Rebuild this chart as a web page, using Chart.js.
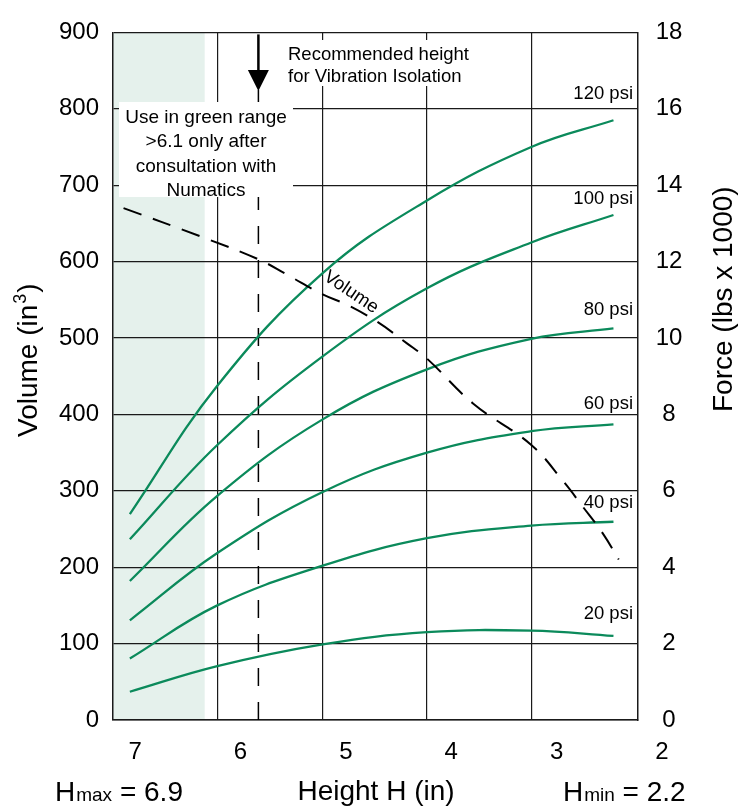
<!DOCTYPE html>
<html>
<head>
<meta charset="utf-8">
<script src="https://cdn.jsdelivr.net/npm/chart.js@4.4.1/dist/chart.umd.min.js"></script>
<style>
  html, body { margin: 0; padding: 0; background: #fff; }
  #wrap { width: 739px; height: 806px; position: relative; }
</style>
</head>
<body>
<div id="wrap"><canvas id="airspring"></canvas></div>
<script>
// heights (in) the force curves were read at
const heights = [7.05, 6.22, 5.22, 4.23, 3.24, 2.46];
// force, lbs x 1000
const psi120 = [5.39, 8.75, 11.7, 13.6, 15.0, 15.7];
const psi100 = [4.73, 7.2, 9.52, 11.3, 12.5, 13.22];
const psi80 = [3.64, 5.87, 7.87, 9.18, 9.98, 10.25];
const psi60 = [2.61, 4.37, 5.97, 7.0, 7.56, 7.74];
const psi40 = [1.61, 3.0, 4.04, 4.76, 5.09, 5.19];
const psi20 = [0.74, 1.41, 1.98, 2.3, 2.34, 2.2];
const psiNames = ['120 psi', '100 psi', '80 psi', '60 psi', '40 psi', '20 psi'];

// volume curve (in3)
const volHeights = [7.11, 6.38, 5.83, 5.56, 5.22, 4.98, 4.70, 4.42, 4.23, 3.79, 3.24, 2.94, 2.75, 2.56, 2.41];
const volume = [670, 633, 603, 583, 557, 543, 521, 493, 473, 414, 360, 313, 279, 244, 210];

const xTickLabels = [7, 6, 5, 4, 3, 2];
const xGrid = [6.22, 5.22, 4.23, 3.24];
const recommendedH = 5.83;
const greenRange = [6.34, 7.21];

const FONT = "'Liberation Sans', Arial, Helvetica, sans-serif";
const green = '#0b8a5b';
const gridColor = '#1a1a1a';

Chart.defaults.font.family = FONT;
Chart.defaults.color = '#000';

function curve(hs, vals) {
  return hs.map((h, i) => ({ x: h, y: vals[i] }));
}

// where the psi names sit (force units, text baseline)
const psiLabelAt = [16.25, 13.5, 10.6, 8.15, 5.55, 2.65];

const annotate = {
  id: 'annotate',
  beforeDraw(chart) {
    const { ctx, chartArea: a, scales: { x } } = chart;
    const x0 = x.getPixelForValue(greenRange[1]);
    const x1 = x.getPixelForValue(greenRange[0]);
    ctx.save();
    ctx.fillStyle = '#e5f1ec';
    ctx.fillRect(x0, a.top, x1 - x0, a.bottom - a.top);
    ctx.restore();
  },
  beforeDatasetsDraw(chart) {
    const { ctx, chartArea: a, scales: { x } } = chart;
    const px = x.getPixelForValue(recommendedH);
    ctx.save();
    // dashed marker line
    ctx.strokeStyle = '#000';
    ctx.lineWidth = 1.5;
    ctx.setLineDash([18, 16]);
    ctx.beginPath();
    ctx.moveTo(px, 90);
    ctx.lineTo(px, a.bottom);
    ctx.stroke();
    ctx.setLineDash([]);
    // arrow
    ctx.lineWidth = 2.5;
    ctx.beginPath();
    ctx.moveTo(px, a.top + 2);
    ctx.lineTo(px, 72);
    ctx.stroke();
    ctx.fillStyle = '#000';
    ctx.beginPath();
    ctx.moveTo(px - 10.5, 70);
    ctx.lineTo(px + 10.5, 70);
    ctx.lineTo(px, 91);
    ctx.closePath();
    ctx.fill();
    ctx.restore();
  },
  afterDraw(chart) {
    const { ctx, scales: { x, y, y1 } } = chart;
    ctx.save();
    ctx.fillStyle = '#000';

    // x tick labels (integers, offset from the grid)
    ctx.font = '24px ' + FONT;
    ctx.textAlign = 'center';
    ctx.textBaseline = 'alphabetic';
    xTickLabels.forEach(v => ctx.fillText(String(v), x.getPixelForValue(v), 759));

    // psi names
    ctx.font = '18.5px ' + FONT;
    ctx.textAlign = 'right';
    psiNames.forEach((n, i) => ctx.fillText(n, 633, y1.getPixelForValue(psiLabelAt[i])));

    // recommended height note
    ctx.textAlign = 'left';
    ctx.fillStyle = '#fff';
    ctx.fillRect(284, 40, 198, 46);
    ctx.fillStyle = '#000';
    ctx.fillText('Recommended height', 288, 60);
    ctx.fillText('for Vibration Isolation', 288, 81.5);

    // green range note
    ctx.fillStyle = '#fff';
    ctx.fillRect(119, 102, 174, 95);
    ctx.fillStyle = '#000';
    ctx.font = '19px ' + FONT;
    ctx.textAlign = 'center';
    ['Use in green range', '>6.1 only after', 'consultation with', 'Numatics']
      .forEach((t, i) => ctx.fillText(t, 206, 123 + i * 24.4));

    // volume curve label
    ctx.save();
    ctx.translate(x.getPixelForValue(4.95), y.getPixelForValue(560));
    ctx.rotate(34 * Math.PI / 180);
    ctx.font = '18.5px ' + FONT;
    ctx.textBaseline = 'middle';
    ctx.fillText('Volume', 0, 0);
    ctx.restore();

    // axis titles
    ctx.textAlign = 'left';
    ctx.textBaseline = 'alphabetic';
    ctx.save();
    ctx.translate(37, 437);
    ctx.rotate(-Math.PI / 2);
    ctx.font = '28px ' + FONT;
    let w = ctx.measureText('Volume (in').width;
    ctx.fillText('Volume (in', 0, 0);
    ctx.font = '18px ' + FONT;
    ctx.fillText('3', w + 1, -11);
    w += ctx.measureText('3').width + 2;
    ctx.font = '28px ' + FONT;
    ctx.fillText(')', w, 0);
    ctx.restore();

    ctx.save();
    ctx.translate(732, 412);
    ctx.rotate(-Math.PI / 2);
    ctx.font = '28px ' + FONT;
    ctx.fillText('Force (lbs x 1000)', 0, 0);
    ctx.restore();

    ctx.font = '28px ' + FONT;
    ctx.textAlign = 'center';
    ctx.fillText('Height H (in)', 376, 800);

    // Hmax / Hmin
    ctx.textAlign = 'left';
    const hLabel = (left, sub, val) => {
      ctx.font = '28px ' + FONT;
      ctx.fillText('H', left, 801);
      let p = left + ctx.measureText('H').width + 1;
      ctx.font = '19px ' + FONT;
      ctx.fillText(sub, p, 801);
      p += ctx.measureText(sub).width;
      ctx.font = '28px ' + FONT;
      ctx.fillText(' = ' + val, p, 801);
    };
    hLabel(55, 'max', '6.9');
    hLabel(563, 'min', '2.2');
    ctx.restore();
  }
};

const forceSets = [psi120, psi100, psi80, psi60, psi40, psi20].map((v, i) => ({
  label: psiNames[i],
  data: curve(heights, v),
  yAxisID: 'y1',
  borderColor: green,
  borderWidth: 2.3,
  pointRadius: 0,
  fill: false,
  tension: 0.4
}));

new Chart(document.getElementById('airspring'), {
  type: 'line',
  data: {
    datasets: [
      {
        label: 'Volume',
        data: curve(volHeights, volume),
        yAxisID: 'y',
        borderColor: '#000',
        borderWidth: 2,
        borderDash: [19, 12],
        pointRadius: 0,
        fill: false,
        tension: 0.4
      },
      ...forceSets
    ]
  },
  options: {
    responsive: true,
    maintainAspectRatio: false,
    animation: false,
    layout: { padding: { top: 20, left: 0, right: 0, bottom: 0 } },
    plugins: { legend: { display: false }, tooltip: { enabled: false } },
    scales: {
      x: {
        type: 'linear',
        reverse: true,
        min: 2.23,
        max: 7.21,
        afterBuildTicks: s => { s.ticks = xGrid.map(v => ({ value: v })); },
        afterFit: s => { s.height = 86; },
        ticks: { display: false },
        grid: { color: gridColor, lineWidth: 1.2, drawTicks: false },
        border: { color: gridColor, width: 1.5 }
      },
      y: {
        position: 'left',
        min: 0,
        max: 900,
        afterFit: s => { s.width = 113; },
        ticks: { stepSize: 100, padding: 14, font: { size: 24 } },
        grid: { color: gridColor, lineWidth: 1.2, drawTicks: false },
        border: { color: gridColor, width: 1.5 }
      },
      y1: {
        position: 'right',
        min: 0,
        max: 18,
        afterFit: s => { s.width = 101.3; },
        ticks: { stepSize: 2, padding: 18, crossAlign: 'center', font: { size: 24 } },
        grid: { display: false, drawTicks: false },
        border: { color: gridColor, width: 1.5 }
      }
    }
  },
  plugins: [annotate]
});
</script>
</body>
</html>
